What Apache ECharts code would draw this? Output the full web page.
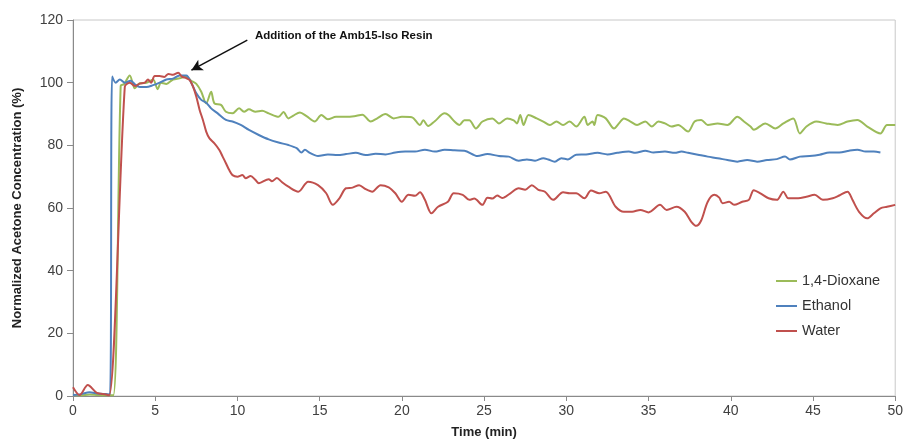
<!DOCTYPE html>
<html>
<head>
<meta charset="utf-8">
<script src="https://cdn.jsdelivr.net/npm/echarts@6/dist/echarts.min.js"></script>
<style>
  html, body { margin: 0; padding: 0; background: #fff; }
  #chart { width: 906px; height: 444px; }
</style>
</head>
<body>
<div id="chart"></div>
<script>
// [time (min), normalized acetone concentration (%)]
var dioxaneData = [
  [0,0.3],[0.5,0.2],[1,0.5],[1.5,0.3],[2,0.2],[2.45,0.2],[2.9,99],[3.1,99.5],[3.45,102.3],[3.76,98.2],
  [4.06,99.8],[4.46,100],[4.87,101],[5.15,97.9],[5.35,100],[5.68,99.6],[6.08,101],[6.48,101.4],[6.89,101.9],
  [7.19,100.6],[7.5,99.6],[7.8,97.1],[8.1,93.4],[8.4,97.1],[8.6,93.4],[9.0,92.9],[9.3,90.7],[9.7,90.2],
  [10.1,91.8],[10.4,90.7],[10.7,91.5],[11.1,90.7],[11.5,91],[11.9,90.2],[12.5,89.1],[12.8,90.6],[13.1,88.6],
  [13.4,89.5],[13.8,90.5],[14.2,89.3],[14.7,87.6],[15.1,89.7],[15.5,88.3],[16.0,89.1],[16.6,89.1],[17.1,89.3],
  [17.6,89.8],[18.1,87.6],[18.5,88.6],[19.0,90],[19.5,88.6],[20.0,89.1],[20.6,89],[21.1,86.5],[21.3,88],
  [21.6,86.2],[22.0,87.7],[22.6,90.2],[22.85,89.6],[23.2,87.6],[23.5,86.5],[23.8,88],[24.1,88],[24.5,85.4],
  [24.9,87.6],[25.5,88.6],[25.9,87],[26.4,88.6],[26.8,88],[27.0,87],[27.2,89.7],[27.4,86.5],[27.7,89.7],
  [28.2,88.6],[28.6,87.6],[29.0,86.5],[29.4,87.6],[29.8,86.5],[30.2,87.6],[30.6,86],[31.1,89.1],[31.3,86.5],
  [31.6,87.6],[31.7,86.5],[31.9,89.7],[32.4,88.6],[32.9,85.4],[33.2,87],[33.5,88.6],[33.9,87.6],[34.3,86.5],
  [34.8,87.6],[35.2,86],[35.6,87.6],[36.0,87],[36.4,86],[36.8,86.5],[37.4,84.4],[37.8,87.6],[38.2,88.1],
  [38.6,86.5],[39.2,87],[39.8,86.5],[40.4,89.1],[40.8,87.6],[41.2,86],[41.4,85],[42.1,87],[42.7,85.4],
  [43.2,87],[43.8,88.6],[44.2,83.8],[44.6,86],[45.2,87.6],[45.8,87],[46.5,86.5],[47.1,87.6],[47.7,88.1],
  [48.3,86],[49.1,83.8],[49.5,86.5],[50,86.5]
];
var ethanolData = [
  [0,0.3],[0.5,0.6],[1.0,1.2],[1.5,0.8],[2.0,0.6],[2.25,0.5],[2.38,102],[2.6,100],[2.85,101],[3.15,100],
  [3.5,100.6],[3.76,99.5],[4.06,98.6],[4.46,98.6],[4.87,99.2],[5.27,100],[5.68,101],[6.08,101.3],[6.48,102.3],
  [6.89,102.3],[7.19,100],[7.5,96.6],[7.8,94.5],[8.1,93.6],[8.4,91.8],[8.8,90.2],[9.3,88.1],[9.7,87.6],
  [10.2,86.5],[10.7,84.9],[11.3,83.3],[11.9,81.9],[12.5,80.9],[13.1,80.1],[13.6,79.1],[13.9,77.7],[14.1,78.6],
  [14.4,77.6],[14.9,76.6],[15.5,77.1],[16.1,76.9],[16.6,77.2],[17.2,77.6],[17.8,76.9],[18.4,77.3],[19.0,77.1],
  [19.6,77.7],[20.2,78],[20.8,78],[21.4,78.6],[22.0,78],[22.6,78.6],[23.2,78.4],[23.8,78.3],[24.6,76.6],
  [25.2,77.2],[25.9,76.6],[26.5,76.4],[27.1,75.1],[27.6,75.5],[28.1,75.1],[28.6,75.9],[28.9,75.5],[29.3,74.8],
  [29.7,75.9],[30.1,75.5],[30.6,77],[31.2,77.1],[31.9,77.6],[32.5,77.1],[33.1,77.6],[33.8,78],[34.2,77.6],
  [34.8,78.3],[35.3,77.7],[36.0,78],[36.6,77.6],[37.0,78],[37.4,77.6],[38.0,77],[38.6,76.4],[39.2,75.9],
  [39.8,75.3],[40.4,74.8],[41.0,75.3],[41.6,74.8],[42.2,75.3],[42.8,75.6],[43.3,76.4],[43.6,75.5],[44.2,76.4],
  [44.8,76.6],[45.4,77],[46.0,77.7],[46.6,77.7],[47.2,78.3],[47.7,78.6],[48.2,78],[48.7,78],[49.1,77.7]
];
var waterData = [
  [0,2.8],[0.4,0.3],[0.9,3.5],[1.45,1],[2.0,0.5],[2.2,0.2],[3.15,98.7],[3.45,100],[3.76,98.9],[4.06,99.7],
  [4.36,100],[4.56,101],[4.75,100],[4.97,102.1],[5.27,102.1],[5.55,101.8],[5.8,102.8],[6.08,102.5],[6.4,103.2],
  [6.6,102],[6.9,101.4],[7.1,100.8],[7.3,98.7],[7.5,95.5],[7.7,91.3],[7.9,88.1],[8.1,84.4],[8.3,82.2],
  [8.6,80.6],[8.9,78.5],[9.1,76.4],[9.3,74.3],[9.5,72.1],[9.7,70.5],[10.0,70],[10.3,70.5],[10.5,69.5],
  [10.8,70.2],[11.1,68.9],[11.3,67.9],[11.9,69.2],[12.1,68.5],[12.4,69.6],[12.7,68.3],[13.1,66.8],[13.7,65.2],
  [14.3,68.4],[14.9,67.3],[15.4,64.7],[15.8,61],[16.2,63.1],[16.6,66.3],[17.0,66.5],[17.4,67.3],[17.8,66],
  [18.2,65.2],[18.7,67.3],[19.2,66.6],[19.6,64.7],[20.0,62],[20.4,64.2],[20.8,63.9],[21.1,65],[21.4,62.6],
  [21.8,58.3],[22.2,60.4],[22.8,62],[23.15,64.7],[23.7,64.2],[24.1,62.6],[24.4,63],[24.9,61],[25.2,63.3],
  [25.5,63],[25.8,64],[26.1,63.2],[26.6,64.7],[27.1,66.3],[27.5,65.8],[27.9,67.3],[28.3,65.8],[28.7,65.2],
  [29.2,62.6],[29.8,65],[30.2,64.7],[30.6,64.7],[31.1,63.1],[31.5,65.6],[32.0,64.7],[32.4,65.2],[33.0,60.4],
  [33.5,58.8],[34.0,58.8],[34.5,59.4],[35.0,58.6],[35.7,61],[36.1,59.4],[36.7,60.4],[37.2,58.8],[37.6,55.6],
  [37.9,54.3],[38.2,56],[38.6,62],[39.0,64.2],[39.3,63.3],[39.5,61.5],[39.9,62],[40.2,61],[40.7,62],
  [41.1,62.6],[41.4,65.7],[41.8,64.7],[42.3,63.1],[42.8,62.6],[43.2,65.2],[43.5,63.1],[44.1,63.1],[44.6,63.6],
  [45.1,64.2],[45.6,62.6],[46.2,63.1],[46.6,64],[47.1,65.2],[47.4,62.6],[47.8,58.8],[48.3,56.7],[48.7,58.3],
  [49.1,59.9],[49.5,60.4],[50,61]
];
var seriesNames = ['1,4-Dioxane', 'Ethanol', 'Water'];
var seriesColors = ['#9BBB59', '#4F81BD', '#C0504D'];
var annotationText = 'Addition of the Amb15-Iso Resin';
// arrow from text to the curve, in data coords [time, value]
var arrowFrom = [10.6, 113.6];
var arrowTo = [7.2, 104];

var myChart = echarts.init(document.getElementById('chart'));

function lineSeries(i, data) {
    return {
        name: seriesNames[i],
        type: 'line',
        data: data,
        showSymbol: false,
        symbol: 'none',
        smooth: 0.3,
        lineStyle: { color: seriesColors[i], width: 2 },
        itemStyle: { color: seriesColors[i] },
        z: 2 + i
    };
}

var series = [
    lineSeries(0, dioxaneData),
    lineSeries(1, ethanolData),
    lineSeries(2, waterData)
];
series[0].markLine = {
    silent: true,
    symbol: ['none', 'arrow'],
    symbolSize: [9, 11],
    label: { show: false },
    lineStyle: { color: '#111', width: 1.5, type: 'solid' },
    data: [[{ coord: arrowFrom }, { coord: arrowTo }]]
};

var option = {
    animation: false,
    grid: {
        left: 73, right: 8, top: 20, bottom: 48,
        show: true,
        borderColor: '#c8c8c8',
        borderWidth: 1
    },
    legend: {
        orient: 'vertical',
        left: 771,
        top: 268,
        itemWidth: 21,
        itemHeight: 2,
        itemGap: 9,
        icon: 'rect',
        textStyle: { fontFamily: 'Liberation Sans', fontSize: 14.5, color: '#333', lineHeight: 16 },
        data: seriesNames
    },
    xAxis: {
        type: 'value',
        min: 0, max: 50, interval: 5,
        name: 'Time (min)',
        nameLocation: 'middle',
        nameGap: 30,
        nameTextStyle: { fontFamily: 'Liberation Sans', fontSize: 13, fontWeight: 'bold', color: '#222' },
        splitLine: { show: false },
        axisLine: { lineStyle: { color: '#8a8a8a' } },
        axisTick: { length: 5, lineStyle: { color: '#8a8a8a' } },
        axisLabel: { fontFamily: 'Liberation Sans', fontSize: 14, color: '#404040', margin: 8 }
    },
    yAxis: {
        type: 'value',
        min: 0, max: 120, interval: 20,
        name: 'Normalized Acetone Concentration (%)',
        nameLocation: 'middle',
        nameGap: 49,
        nameTextStyle: { fontFamily: 'Liberation Sans', fontSize: 13, fontWeight: 'bold', color: '#222' },
        splitLine: { show: false },
        axisLine: { show: true, lineStyle: { color: '#8a8a8a' } },
        axisTick: { show: true, length: 6, lineStyle: { color: '#8a8a8a' } },
        axisLabel: { fontFamily: 'Liberation Sans', fontSize: 14, color: '#404040', margin: 10 }
    },
    graphic: [{
        type: 'text',
        left: 255,
        top: 30,
        silent: true,
        style: {
            text: annotationText,
            font: 'bold 11.5px "Liberation Sans"',
            fill: '#111'
        }
    }],
    series: series
};
myChart.setOption(option);
</script>
</body>
</html>
